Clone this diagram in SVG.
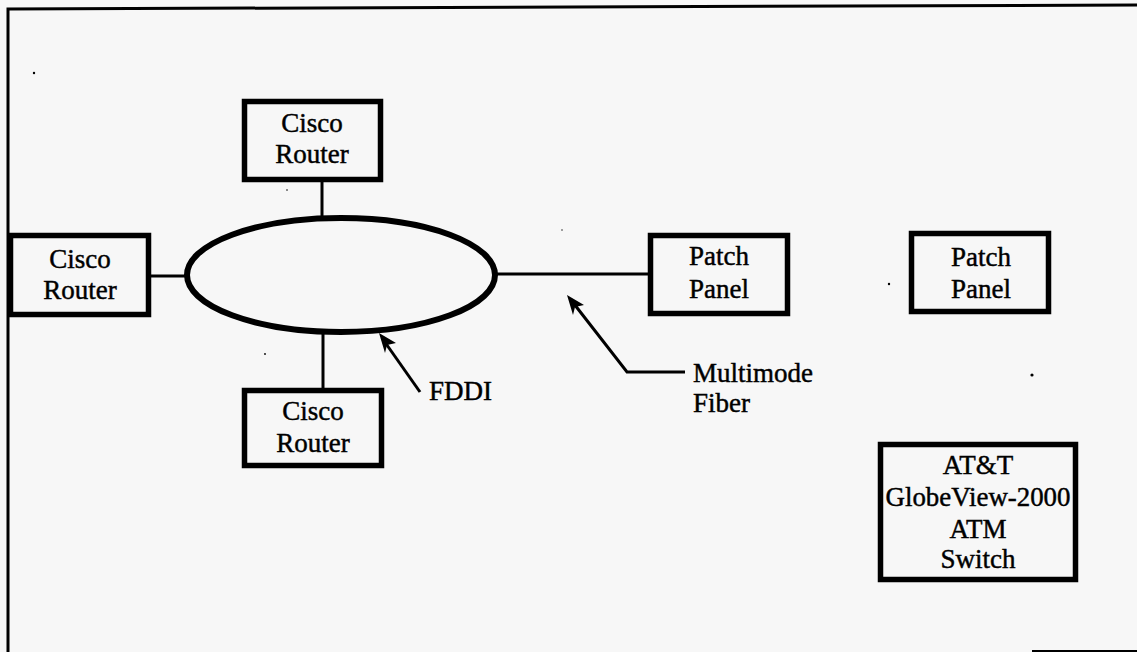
<svg xmlns="http://www.w3.org/2000/svg" width="1137" height="652" viewBox="0 0 1137 652">
<style>
  .box { fill: none; stroke: #000; stroke-width: 5.5; }
  .t { font-family: "Liberation Serif", "Times New Roman", serif; font-size: 27px; fill: #000; stroke: #000; stroke-width: 0.45; text-anchor: middle; }
  .tl { font-family: "Liberation Serif", "Times New Roman", serif; font-size: 27px; fill: #000; stroke: #000; stroke-width: 0.45; }
  .wire { stroke: #000; stroke-width: 3; fill: none; }
  .frame { stroke: #000; stroke-width: 3; fill: none; }
</style>
<rect x="0" y="0" width="1137" height="652" fill="#f7f7f7"/>
<g id="frame">
  <polyline class="frame" points="8,652 8,9 1137,5"/>
  <line x1="1032" y1="651" x2="1137" y2="651" stroke="#000" stroke-width="2"/>
</g>
<g id="specks" fill="#000">
  <circle cx="34" cy="73" r="1.2"/>
  <circle cx="287" cy="190" r="0.8"/>
  <circle cx="265" cy="354" r="0.9"/>
  <circle cx="889" cy="284" r="1.2"/>
  <circle cx="1032" cy="375" r="1.6"/>
  <circle cx="562" cy="230" r="0.7"/>
</g>
<g id="connectors">
  <line class="wire" x1="322" y1="182" x2="322" y2="217"/>
  <line class="wire" x1="151" y1="276" x2="186" y2="276"/>
  <line class="wire" x1="323" y1="333" x2="323" y2="388"/>
  <line class="wire" x1="496" y1="274" x2="648" y2="274"/>
  <g id="fddi-arrow">
    <line class="wire" x1="420" y1="392" x2="382" y2="338"/>
    <path d="M379,333 L396,343 L387,345 L385,353 Z" fill="#000"/>
  </g>
  <g id="fiber-arrow">
    <polyline class="wire" points="685,372 627,372 571,300"/>
    <path d="M567,295 L584,305 L575,307 L573,315 Z" fill="#000"/>
  </g>
</g>
<g id="fddi">
  <ellipse cx="341" cy="275" rx="154" ry="57" fill="none" stroke="#000" stroke-width="6"/>
</g>
<g id="router-top">
  <rect class="box" x="244.5" y="101.5" width="136" height="78"/>
  <text class="t" x="312" y="132">Cisco</text>
  <text class="t" x="312" y="163">Router</text>
</g>
<g id="router-left">
  <rect class="box" x="10.5" y="235.5" width="138" height="79"/>
  <text class="t" x="80" y="268">Cisco</text>
  <text class="t" x="80" y="299">Router</text>
</g>
<g id="router-bottom">
  <rect class="box" x="244.5" y="390.5" width="137" height="75"/>
  <text class="t" x="313" y="420">Cisco</text>
  <text class="t" x="313" y="452">Router</text>
</g>
<g id="patch-panel-1">
  <rect class="box" x="650.5" y="235.5" width="137" height="78"/>
  <text class="t" x="719" y="265">Patch</text>
  <text class="t" x="719" y="298">Panel</text>
</g>
<g id="patch-panel-2">
  <rect class="box" x="911.5" y="233.5" width="137" height="78"/>
  <text class="t" x="981" y="266">Patch</text>
  <text class="t" x="981" y="298">Panel</text>
</g>
<g id="atm-switch">
  <rect class="box" x="880.5" y="444.5" width="195" height="135"/>
  <text class="t" x="978" y="474">AT&amp;T</text>
  <text class="t" x="978" y="506" textLength="185" lengthAdjust="spacingAndGlyphs">GlobeView-2000</text>
  <text class="t" x="978" y="538">ATM</text>
  <text class="t" x="978" y="568">Switch</text>
</g>
<g id="labels">
  <text class="tl" x="429" y="400">FDDI</text>
  <text class="tl" x="693" y="382">Multimode</text>
  <text class="tl" x="693" y="412">Fiber</text>
</g>
</svg>
